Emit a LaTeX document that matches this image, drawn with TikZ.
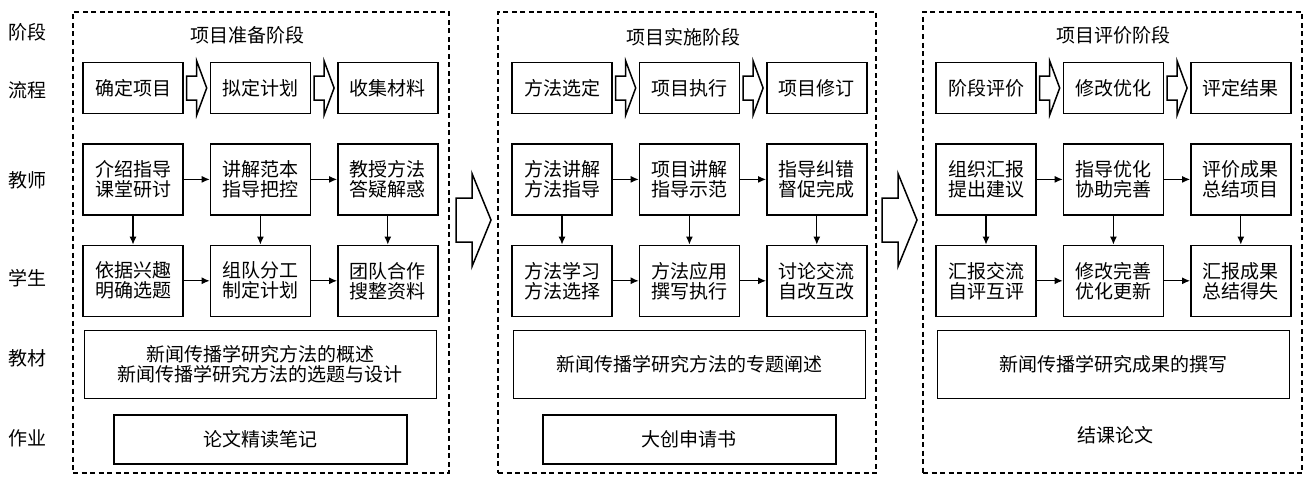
\documentclass[tikz,border=0pt]{standalone}
\usepackage{fontspec}
\newfontfamily\cjk{Noto Sans CJK SC}
\usetikzlibrary{positioning, calc, arrows.meta}

% hollow block arrow: centre, length, shaft width, head width, head length
\newcommand{\fatarrow}[5]{%
  \draw[arrowline, shift={#1}]
    ({-#2/2},{-#3/2}) -- ({#2/2-#5},{-#3/2}) -- ({#2/2-#5},{-#4/2}) -- ({#2/2},0)
    -- ({#2/2-#5},{#4/2}) -- ({#2/2-#5},{#3/2}) -- ({-#2/2},{#3/2}) -- cycle;}

\begin{document}
\begin{tikzpicture}[
    x=1pt, y=-1pt, >={Latex[length=8pt, width=7pt]}, node distance=29pt and 26pt,
    every node/.style={font=\cjk\fontsize{19}{20}\selectfont},
    stepbox/.style={draw, line width=1.4pt, minimum width=100pt, minimum height=51pt, inner sep=0pt},
    taskbox/.style={stepbox, minimum height=71pt, align=center},
    bookbox/.style={draw, line width=1.4pt, minimum width=352pt, minimum height=68pt, inner sep=0pt, align=center},
    workbox/.style={draw, line width=1.4pt, minimum width=293pt, minimum height=49pt, inner sep=0pt},
    phase/.style={draw, line width=1.3pt, dash pattern=on 5pt off 3.5pt, inner sep=0pt},
    link/.style={->, line width=1.2pt},
    arrowline/.style={line width=1.5pt, line join=miter}
]
    \useasboundingbox (0,0) rectangle (1309,479);

    % row labels
    \foreach \name/\txt/\yy in {lstage/阶段/32, lflow/流程/90, lteach/教师/180,
                               lstud/学生/278, lbook/教材/358, lwork/作业/438}
        \node (\name) at (28,\yy) {\txt};

    % dashed phase frames
    \node[phase, minimum width=376pt, minimum height=461pt] (P1) at (261,242.5) {};
    \node[phase, minimum width=378pt, minimum height=461pt] (P2) at (687,242.5) {};
    \node[phase, minimum width=379pt, minimum height=461pt] (P3) at (1112.5,242.5) {};

    % preparation phase
    \node (p-title) at (247,35) {项目准备阶段};
    \node[stepbox] (p-f1) at (133,88) {确定项目};
    \node[stepbox, right=of p-f1] (p-f2) {拟定计划};
    \node[stepbox, right=of p-f2] (p-f3) {收集材料};
    \node[taskbox, below=of p-f1] (p-t1) {介绍指导\\课堂研讨};
    \node[taskbox, below=of p-f2] (p-t2) {讲解范本\\指导把控};
    \node[taskbox, below=of p-f3] (p-t3) {教授方法\\答疑解惑};
    \node[taskbox, below=of p-t1] (p-s1) {依据兴趣\\明确选题};
    \node[taskbox, below=of p-t2] (p-s2) {组队分工\\制定计划};
    \node[taskbox, below=of p-t3] (p-s3) {团队合作\\搜整资料};
    \node[bookbox, below=13pt of p-s2] (p-b) {新闻传播学研究方法的概述\\新闻传播学研究方法的选题与设计};
    \node[workbox, below=15pt of p-b] (p-w) {论文精读笔记};

    % implementation phase
    \node (i-title) at (683,37) {项目实施阶段};
    \node[stepbox] (i-f1) at (562,88) {方法选定};
    \node[stepbox, right=of i-f1] (i-f2) {项目执行};
    \node[stepbox, right=of i-f2] (i-f3) {项目修订};
    \node[taskbox, below=of i-f1] (i-t1) {方法讲解\\方法指导};
    \node[taskbox, below=of i-f2] (i-t2) {项目讲解\\指导示范};
    \node[taskbox, below=of i-f3] (i-t3) {指导纠错\\督促完成};
    \node[taskbox, below=of i-t1] (i-s1) {方法学习\\方法选择};
    \node[taskbox, below=of i-t2] (i-s2) {方法应用\\撰写执行};
    \node[taskbox, below=of i-t3] (i-s3) {讨论交流\\自改互改};
    \node[bookbox, below=13pt of i-s2] (i-b) {新闻传播学研究方法的专题阐述};
    \node[workbox, below=15pt of i-b] (i-w) {大创申请书};

    % evaluation phase
    \node (e-title) at (1113,35) {项目评价阶段};
    \node[stepbox] (e-f1) at (986,88) {阶段评价};
    \node[stepbox, right=of e-f1] (e-f2) {修改优化};
    \node[stepbox, right=of e-f2] (e-f3) {评定结果};
    \node[taskbox, below=of e-f1] (e-t1) {组织汇报\\提出建议};
    \node[taskbox, below=of e-f2] (e-t2) {指导优化\\协助完善};
    \node[taskbox, below=of e-f3] (e-t3) {评价成果\\总结项目};
    \node[taskbox, below=of e-t1] (e-s1) {汇报交流\\自评互评};
    \node[taskbox, below=of e-t2] (e-s2) {修改完善\\优化更新};
    \node[taskbox, below=of e-t3] (e-s3) {汇报成果\\总结得失};
    \node[bookbox, below=13pt of e-s2] (e-b) {新闻传播学研究成果的撰写};
    \node (e-w) at (1115,435) {结课论文};

    % connectors inside each phase
    \foreach \c in {p,i,e} {
        \foreach \k/\n in {1/2, 2/3} {
            \fatarrow{($(\c-f\k.east)!0.5!(\c-f\n.west)$)}{20}{24}{54}{10}
            \draw[link] (\c-t\k) -- (\c-t\n);
            \draw[link] (\c-s\k) -- (\c-s\n);
        }
        \foreach \k in {1,2,3}
            \draw[link] (\c-t\k) -- (\c-s\k);
    }

    % arrows between phases
    \fatarrow{($(P1.east)!0.5!(P2.west)+(0,-22.5)$)}{35}{44}{93}{19}
    \fatarrow{($(P2.east)!0.5!(P3.west)+(0,-22.5)$)}{35}{44}{93}{19}

\end{tikzpicture}
\end{document}
